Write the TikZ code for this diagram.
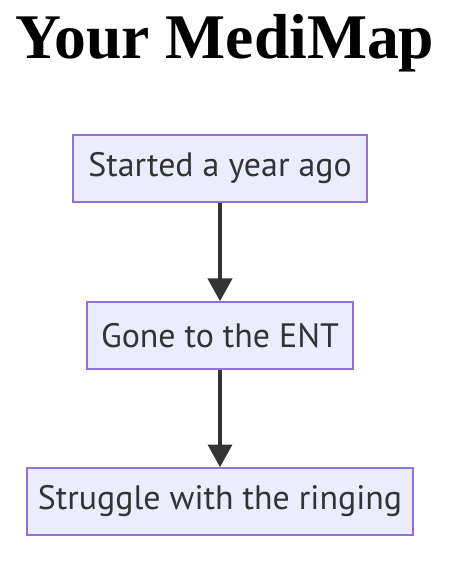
\documentclass[tikz,border=0pt]{standalone}
\usepackage{fontspec}
\setmainfont{Liberation Serif}
\newfontfamily\nodefont{PT Sans}
\usetikzlibrary{arrows.meta}

\definecolor{nodefill}{HTML}{ECECFF}
\definecolor{nodeline}{HTML}{9370DB}
\definecolor{inkgray}{HTML}{333333}

\begin{document}
\begin{tikzpicture}[x=0.75pt, y=-0.75pt,
  box/.style={draw=nodeline, fill=nodefill, line width=1.5pt,
    minimum height=50pt, inner sep=0pt, text=inkgray,
    font=\nodefont\fontsize{25.4}{30}\selectfont},
  arr/.style={-{Triangle[width=18pt, length=17pt]}, line width=2.8pt, draw=inkgray}]

% Page frame
\useasboundingbox (0,0) rectangle (458,580);

% Title
\node[font=\bfseries\fontsize{47.7}{56}\selectfont] (title) at (225,43) {Your MediMap};

% Steps
\node[box, minimum width=220.5pt] (start) at (220,168.5) {Started a year ago};
\node[box, minimum width=199.5pt] (ent) at (220,335.5) {Gone to the ENT};
\node[box, minimum width=289.5pt] (ring) at (220,501.5) {Struggle with the ringing};

% Connectors
\draw[arr] (start) -- (ent);
\draw[arr] (ent) -- (ring);

\end{tikzpicture}
\end{document}
